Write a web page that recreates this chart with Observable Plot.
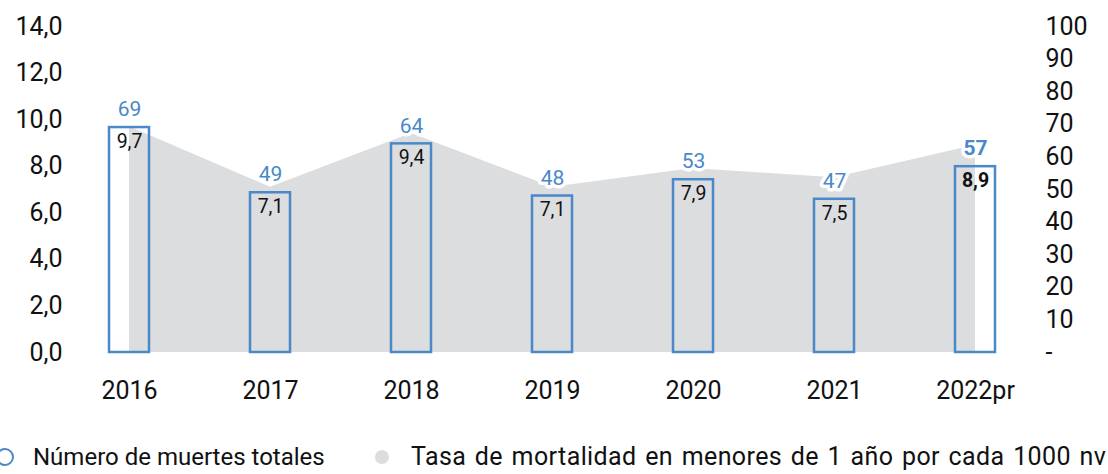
<!DOCTYPE html>
<html><head><meta charset="utf-8">
<script src="https://cdn.jsdelivr.net/npm/d3@7"></script>
<script src="https://cdn.jsdelivr.net/npm/@observablehq/plot@0.6"></script>
<style>
body{margin:0;background:#fff;font-family:Roboto,sans-serif;width:1108px;height:474px;overflow:hidden;position:relative;}
#legend{position:absolute;left:0;top:442px;width:1108px;height:30px;color:#111;}
.item{position:absolute;top:0;line-height:30px;white-space:nowrap;}
.sw{position:absolute;border-radius:50%;box-sizing:border-box;}
</style></head><body>
<div id="chart"></div>
<div id="legend"></div>
<script>
const years = ["2016","2017","2018","2019","2020","2021","2022pr"];
const deaths = [69,49,64,48,53,47,57];
const rates = [9.7,7.1,9.4,7.1,7.9,7.5,8.9];
const leftTicks = [0,2,4,6,8,10,12,14];
const rightTicks = [0,10,20,30,40,50,60,70,80,90,100];
const seriesNames = ["Número de muertes totales","Tasa de mortalidad en menores de 1 año por cada 1000 nv"];

const BLUE = "#4a88c8", GREY = "#dcdddf";
const k = 14/100;
const fmt1 = v => v.toFixed(1).replace(".", ",");
const data = years.map((y,i)=>({year:y, deaths:deaths[i], rate:rates[i], last:i===years.length-1}));

const chart = Plot.plot({
  width:1108, height:420,
  marginLeft:56, marginRight:61, marginTop:26, marginBottom:68,
  style:{fontFamily:"Roboto, sans-serif", background:"white"},
  x:{domain:years, type:"band", paddingInner:0.717, paddingOuter:0.36, label:null},
  y:{domain:[0,14], label:null},
  marks:[
    Plot.areaY(data,{x:"year", y:"rate", fill:GREY}),
    Plot.barY(data,{x:"year", y1:0, y2:d=>d.deaths*k, fill:"none", stroke:BLUE, strokeWidth:2.5}),
    Plot.text(data.filter(d=>!d.last),{x:"year", y:d=>d.deaths*k, text:d=>String(d.deaths), dy:-18, fill:BLUE, fontSize:21, stroke:"white", strokeWidth:7}),
    Plot.text(data.filter(d=>d.last),{x:"year", y:d=>d.deaths*k, text:d=>String(d.deaths), dy:-18, fill:BLUE, fontSize:21, fontWeight:"bold", stroke:"white", strokeWidth:7}),
    Plot.text(data.filter(d=>!d.last),{x:"year", y:d=>d.deaths*k, text:d=>fmt1(d.rate), dy:14, fill:"#111", fontSize:19.5}),
    Plot.text(data.filter(d=>d.last),{x:"year", y:d=>d.deaths*k, text:d=>fmt1(d.rate), dy:14, fill:"#111", fontSize:19.5, fontWeight:"bold"}),
    Plot.axisY(leftTicks,{anchor:"left", tickSize:0, tickPadding:0, dx:6, fontSize:25, tickFormat:fmt1, fill:"#111"}),
    Plot.axisY(rightTicks.map(v=>v*k),{anchor:"right", tickSize:0, tickPadding:0, dx:-2, fontSize:25, tickFormat:v=>{const n=Math.round(v/k); return n===0?"-":String(n);}, fill:"#111"}),
    Plot.axisX({tickSize:0, tickPadding:29, fontSize:25, fill:"#111"})
  ]
});
document.getElementById("chart").appendChild(chart);

const lg = document.getElementById("legend");
lg.innerHTML = `
<div class="sw" style="left:-4px;top:6px;width:18px;height:18px;border:2.5px solid ${BLUE};"></div>
<div class="item" style="left:33px;font-size:24px;">${seriesNames[0]}</div>
<div class="sw" style="left:375px;top:8px;width:14px;height:14px;background:${GREY};"></div>
<div class="item" style="left:411px;font-size:25px;letter-spacing:0.4px;word-spacing:2px;">${seriesNames[1]}</div>`;
</script>
</body></html>
